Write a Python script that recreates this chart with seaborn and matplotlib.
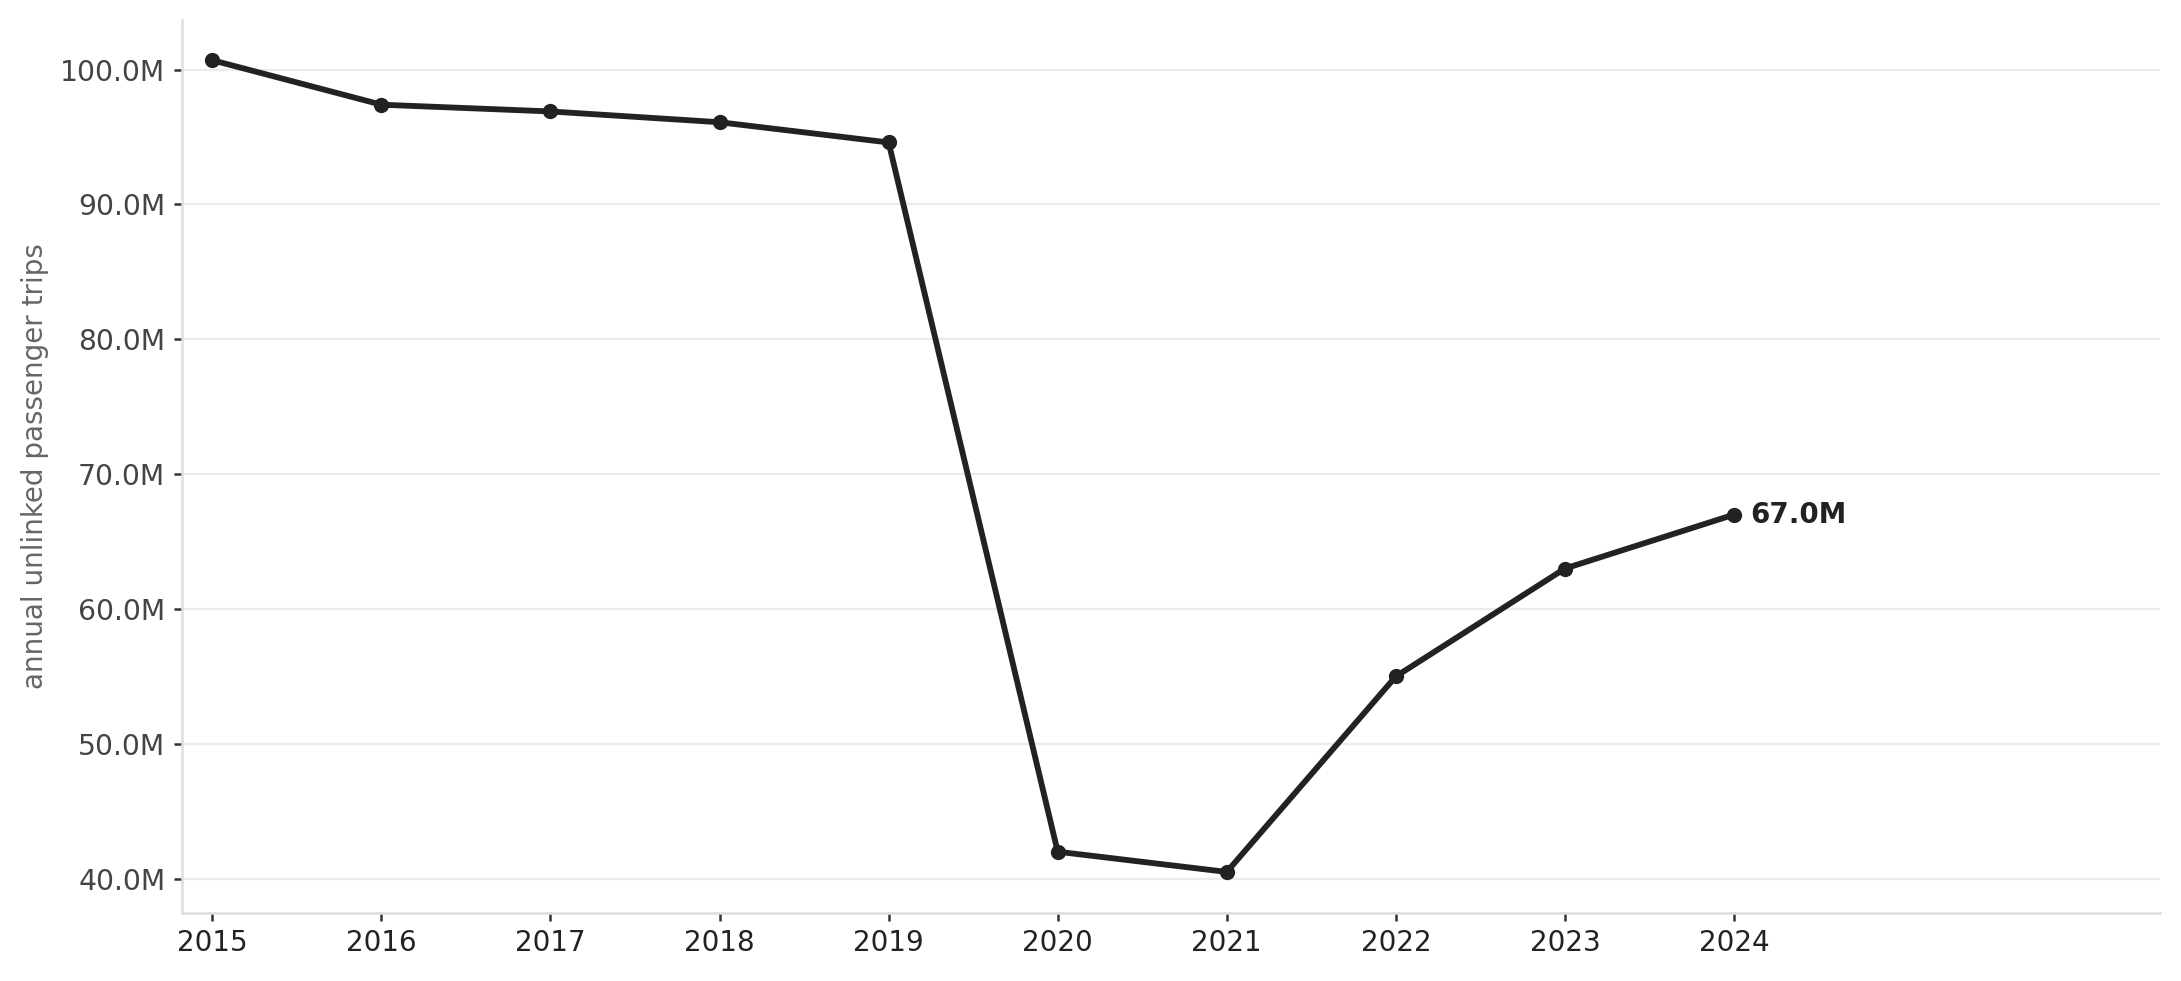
import numpy as np
import pandas as pd
import matplotlib
matplotlib.use("Agg")
import matplotlib.pyplot as plt
from matplotlib.ticker import FuncFormatter
import seaborn as sns

years = [2015, 2016, 2017, 2018, 2019, 2020, 2021, 2022, 2023, 2024]
trips_m = [100.7, 97.4, 96.9, 96.1, 94.6, 42.0, 40.5, 55.0, 63.0, 67.0]

df = pd.DataFrame({"year": years, "trips": np.array(trips_m) * 1e6})

sns.set_style("white")
plt.rcParams["font.family"] = ["DejaVu Sans"]

fig, ax = plt.subplots(figsize=(10.905, 4.905), dpi=200)
fig.subplots_adjust(left=0.0834, right=0.9904, bottom=0.0698, top=0.980)

sns.lineplot(data=df, x="year", y="trips", marker="o", color="#222222",
             linewidth=2.1, markersize=5.5, markeredgewidth=0, ax=ax)

# label the last point
ax.annotate(f"{df['trips'].iloc[-1] / 1e6:.1f}M",
            xy=(df["year"].iloc[-1], df["trips"].iloc[-1]),
            xytext=(6, 0), textcoords="offset points",
            ha="left", va="center", fontsize=10, fontweight="bold", color="#222222")

ax.set_xlim(2014.82, 2026.52)
ax.set_xticks(years)
ax.yaxis.set_major_formatter(FuncFormatter(lambda v, _: f"{v / 1e6:.1f}M"))

ax.grid(axis="y", color="#ebebeb", linewidth=0.8)
ax.grid(axis="x", visible=False)
ax.set_axisbelow(True)
sns.despine(ax=ax)
for side in ["left", "bottom"]:
    ax.spines[side].set_color("#dddddd")
    ax.spines[side].set_linewidth(0.9)

ax.tick_params(axis="y", left=True, length=3, width=0.9, color="#333333", labelsize=10.2, labelcolor="#444444", pad=3)
ax.tick_params(axis="x", bottom=True, length=3, width=0.9, color="#333333", labelsize=10, labelcolor="#222222", pad=3)

ax.set_xlabel("")
ax.set_ylabel("annual unlinked passenger trips", fontsize=10, color="#666666", labelpad=4)

fig.savefig("out.png", dpi=200)
